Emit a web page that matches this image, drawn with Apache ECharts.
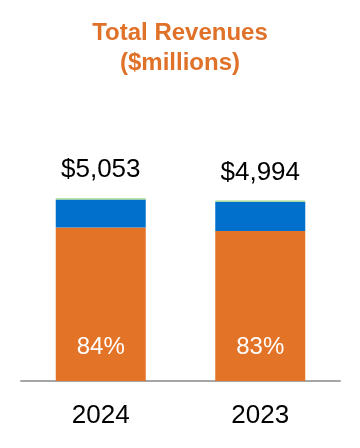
<!DOCTYPE html>
<html>
<head>
<meta charset="utf-8">
<script src="https://cdn.jsdelivr.net/npm/echarts@6/dist/echarts.min.js"></script>
<style>html,body{margin:0;padding:0;background:#fff;}#c{width:360px;height:448px;}</style>
</head>
<body>
<div id="c"></div>
<script>
var categories = ['2024', '2023'];
var totals = [5053, 4994];
var orangeValues = [4245, 4145];
var blueValues = [770, 810];
var greenValues = [38, 39];
var pctLabels = ['84%', '83%'];

var chart = echarts.init(document.getElementById('c'));
chart.setOption({
  animation: false,
  title: {
    text: 'Total Revenues\n($millions)',
    left: 'center',
    top: 13,
    textStyle: { fontFamily: 'Liberation Sans', fontSize: 24, fontWeight: 'bold', color: '#E07128', lineHeight: 30 }
  },
  grid: { left: 21, right: 20, top: 164, bottom: 67 },
  xAxis: {
    type: 'category',
    data: categories,
    axisLine: { lineStyle: { color: '#A6A6A6', width: 2 } },
    axisTick: { show: false },
    axisLabel: { fontFamily: 'Liberation Sans', fontSize: 26, color: '#000', margin: 22 }
  },
  yAxis: { type: 'value', min: 0, max: 6000, show: false, splitLine: { show: false } },
  series: [
    {
      type: 'bar', stack: 's', data: orangeValues, barWidth: 90,
      itemStyle: { color: '#E37327' },
      label: {
        show: true, position: 'insideBottom', distance: 22,
        formatter: function (p) { return pctLabels[p.dataIndex]; },
        fontFamily: 'Liberation Sans', fontSize: 24, color: '#fff'
      }
    },
    { type: 'bar', stack: 's', data: blueValues, barWidth: 90, itemStyle: { color: '#0070CC' } },
    {
      type: 'bar', stack: 's', data: greenValues, barWidth: 90,
      itemStyle: { color: '#A8D88A' },
      label: {
        show: true, position: 'top', distance: 15,
        formatter: function (p) { return '$' + totals[p.dataIndex].toLocaleString('en-US'); },
        fontFamily: 'Liberation Sans', fontSize: 26, color: '#000'
      }
    }
  ]
});
</script>
</body>
</html>
